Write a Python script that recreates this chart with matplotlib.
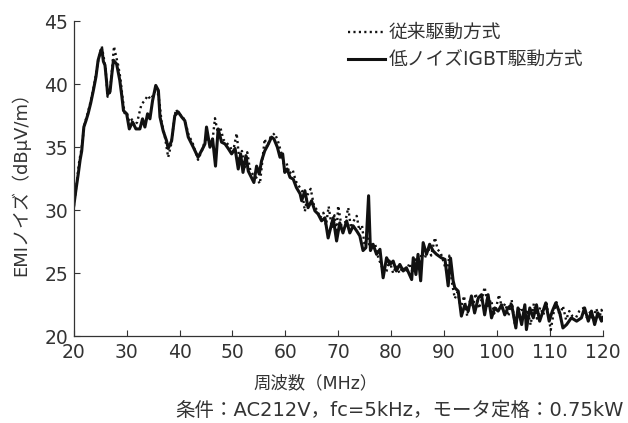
import matplotlib
matplotlib.use("Agg")
import matplotlib.pyplot as plt

plt.rcParams['font.family'] = ['DejaVu Sans', 'Noto Sans CJK JP']

# 低ノイズIGBT駆動方式 (solid)
freq_new = [20.0, 20.4, 20.85, 21.2, 21.5, 21.9, 22.3, 22.7, 23.2, 23.7, 24.2, 24.6, 25.0, 25.3, 25.6,
            25.9, 26.2, 26.4, 26.85, 27.2, 27.5, 28.1, 28.7, 29.1, 29.4, 30.0, 30.5, 31.1, 31.75, 32.5,
            33.0, 33.45, 33.95, 34.4, 34.9, 35.5, 36.0, 36.3, 36.9, 37.55, 37.85, 38.5, 39.1, 39.75, 40.4,
            41.0, 41.65, 42.6, 43.5, 44.5, 44.8, 45.1, 45.75, 46.25, 46.8, 47.3, 47.95, 48.6, 49.2, 49.85,
            50.5, 51.1, 51.55, 52.0, 52.55, 53.0, 53.6, 54.06, 54.57, 55.07, 55.5, 56.1, 56.8, 57.4, 57.85,
            58.5, 59.0, 59.5, 59.9, 60.35, 60.9, 61.5, 62.1, 62.8, 63.1, 63.7, 64.3, 64.97, 65.6, 66.2,
            66.86, 67.5, 68.1, 68.75, 69.05, 69.7, 70.3, 70.9, 71.6, 72.2, 72.84, 73.5, 74.1, 74.7, 75.24,
            75.75, 76.1, 76.6, 77.26, 77.9, 78.5, 79.15, 79.8, 80.4, 81.0, 81.66, 82.3, 82.9, 83.9, 84.2,
            84.7, 85.1, 85.6, 86.07, 86.7, 87.3, 87.96, 88.6, 89.5, 90.2, 90.8, 91.25, 91.74, 92.06, 92.7,
            93.3, 93.95, 94.6, 95.2, 95.8, 96.5, 97.1, 97.7, 98.35, 99.0, 99.6, 100.25, 100.9, 101.5, 102.1,
            102.8, 103.6, 104.0, 104.7, 105.3, 105.6, 106.24, 106.9, 107.5, 108.1, 108.75, 109.26, 109.9, 110.5, 111.15,
            111.9, 112.5, 113.2, 114.1, 115.1, 116.0, 116.6, 117.3, 117.9, 118.5, 119.1, 119.8, 120.0]
emi_new = [30.35, 31.6, 32.9, 34.0, 34.7, 36.6, 37.1, 37.65, 38.5, 39.5, 40.6, 41.9, 42.5, 42.8, 41.8,
           41.5, 40.2, 39.2, 39.4, 40.8, 41.9, 41.6, 40.3, 39.0, 37.9, 37.65, 36.45, 37.0, 36.45, 36.45,
           37.25, 36.6, 37.65, 37.25, 38.7, 39.9, 39.5, 37.4, 36.3, 35.5, 34.9, 35.5, 37.5, 37.8, 37.4,
           37.1, 35.8, 35.0, 34.2, 35.0, 35.26, 36.6, 35.0, 35.66, 33.5, 36.45, 35.4, 35.26, 34.9, 34.47,
           34.9, 33.27, 34.47, 33.0, 34.33, 33.1, 32.6, 32.2, 33.5, 32.87, 33.9, 34.7, 35.26, 35.8, 35.66,
           35.0, 34.2, 34.47, 33.0, 33.27, 32.6, 32.47, 31.8, 31.3, 30.75, 31.55, 30.2, 30.75, 29.95, 29.7,
           29.16, 29.4, 27.8, 28.9, 29.4, 27.56, 29.0, 28.2, 29.15, 28.2, 28.76, 28.36, 27.96, 26.8, 27.03,
           31.15, 26.8, 27.3, 26.5, 26.9, 24.64, 26.23, 25.7, 25.97, 25.18, 25.7, 25.18, 25.44, 24.5, 26.23,
           24.9, 26.5, 24.4, 27.43, 26.5, 27.3, 26.77, 26.5, 26.23, 26.1, 24.0, 26.2, 24.4, 23.85, 23.58,
           21.6, 22.5, 22.0, 23.2, 21.85, 23.05, 23.3, 21.7, 23.3, 21.46, 22.25, 22.0, 22.5, 21.7, 22.25,
           22.5, 20.66, 22.25, 20.93, 22.5, 20.53, 22.25, 21.46, 22.5, 21.2, 22.0, 22.65, 21.2, 22.0, 22.65,
           21.86, 20.66, 20.93, 21.46, 21.2, 21.46, 22.25, 21.2, 22.0, 20.93, 21.86, 21.2, 21.5]

# 従来駆動方式 (dotted)
freq_conv = [20.0, 20.5, 21.0, 21.5, 22.0, 22.5, 23.0, 23.5, 24.0, 24.5, 25.0, 25.3, 25.7, 26.0, 26.4,
             26.8, 27.2, 27.6, 28.0, 28.4, 28.8, 29.2, 29.6, 30.0, 30.5, 31.0, 31.5, 32.0, 32.5, 32.8,
             33.4, 34.0, 34.5, 35.0, 35.7, 36.2, 36.6, 37.2, 37.85, 38.4, 39.0, 39.3, 39.9, 40.5, 41.1,
             41.7, 42.5, 43.5, 44.3, 45.0, 45.6, 46.2, 46.7, 47.2, 47.7, 48.3, 49.0, 49.6, 50.1, 50.8,
             51.3, 51.8, 52.3, 52.8, 53.3, 53.9, 54.5, 55.2, 55.6, 56.1, 56.6, 57.2, 58.0, 58.6, 59.2,
             59.7, 60.2, 60.8, 61.4, 62.0, 62.6, 63.2, 63.7, 64.2, 64.8, 65.4, 66.0, 66.6, 67.2, 67.7,
             68.2, 68.8, 69.3, 69.7, 70.0, 70.6, 71.3, 71.9, 72.4, 73.0, 73.5, 74.0, 74.5, 75.0, 75.5,
             76.0, 76.5, 77.0, 77.6, 78.2, 78.7, 79.15, 79.7, 80.4, 81.0, 81.6, 82.2, 82.8, 83.5, 84.1,
             84.6, 85.2, 85.8, 86.4, 87.0, 87.6, 88.3, 88.8, 89.4, 90.0, 90.6, 91.0, 91.5, 92.06, 92.6,
             93.2, 93.8, 94.4, 94.9, 95.5, 96.0, 96.6, 97.2, 97.7, 98.3, 98.9, 99.5, 100.0, 100.4, 101.0,
             101.6, 102.2, 102.8, 103.4, 104.0, 104.6, 105.2, 105.8, 106.4, 107.0, 107.6, 108.2, 108.8, 109.4, 110.0,
             110.2, 110.8, 111.3, 111.9, 112.5, 113.1, 113.7, 114.3, 115.0, 115.6, 116.4, 117.0, 117.6, 118.2, 118.8,
             119.4, 119.8, 120.0]
emi_conv = [30.3, 32.0, 33.8, 35.0, 36.8, 37.5, 38.3, 39.2, 40.3, 41.6, 42.6, 43.0, 42.0, 41.3, 39.0,
            39.3, 41.0, 43.0, 42.2, 41.5, 40.5, 39.0, 37.7, 37.8, 37.0, 37.2, 36.7, 37.0, 37.9, 38.4,
            38.7, 39.1, 38.8, 39.1, 39.7, 38.6, 37.0, 35.9, 34.2, 35.2, 37.2, 38.0, 37.6, 37.5, 37.0,
            36.0, 35.3, 34.0, 34.8, 35.8, 35.3, 35.4, 37.3, 36.2, 36.6, 35.6, 35.3, 35.0, 34.6, 36.1,
            34.0, 34.7, 33.4, 34.6, 33.3, 32.8, 32.6, 32.1, 33.7, 35.66, 35.0, 35.8, 36.1, 35.5, 34.6,
            33.7, 33.8, 32.9, 33.2, 32.3, 31.9, 31.5, 29.9, 31.2, 31.7, 30.4, 30.0, 29.4, 29.8, 28.8,
            30.3, 28.6, 29.6, 28.2, 30.35, 28.8, 29.0, 30.2, 28.6, 29.2, 29.55, 28.4, 28.8, 27.2, 28.0,
            27.0, 26.8, 27.3, 26.2, 25.6, 25.0, 25.18, 26.0, 25.0, 25.6, 25.0, 25.5, 25.1, 25.8, 25.0,
            26.1, 25.4, 26.6, 26.2, 27.0, 26.4, 27.83, 26.9, 26.6, 25.8, 25.0, 26.4, 24.3, 23.0, 23.5,
            22.2, 23.2, 21.6, 22.8, 22.4, 23.4, 22.2, 23.0, 23.9, 22.4, 22.9, 21.8, 22.5, 23.3, 22.2,
            22.6, 21.6, 22.9, 21.0, 22.0, 22.3, 21.4, 22.1, 20.9, 22.6, 21.4, 22.3, 21.7, 22.6, 21.0,
            20.5, 22.0, 22.7, 21.6, 22.4, 21.3, 22.0, 21.6, 21.5, 22.0, 22.25, 21.5, 21.9, 21.3, 22.2,
            21.5, 22.1, 21.8]

x_ticks = [20, 30, 40, 50, 60, 70, 80, 90, 100, 110, 120]
y_ticks = [20, 25, 30, 35, 40, 45]

fig = plt.figure(figsize=(6.28, 4.23), dpi=100)
ax = fig.add_axes([0.1175, 0.205, 0.842, 0.745])

ax.plot(freq_conv, emi_conv, color='#111111', lw=1.7, linestyle=(0, (0.9, 1.4)),
        label='従来駆動方式')
ax.plot(freq_new, emi_new, color='#111111', lw=2.2, label='低ノイズIGBT駆動方式')

ax.set_xlim(20, 120)
ax.set_ylim(20, 45)
ax.set_xticks(x_ticks)
ax.set_yticks(y_ticks)
ax.tick_params(direction='in', length=4, width=0.8, labelsize=13.5, colors='#333333')
ax.tick_params(axis='x', pad=5)
ax.tick_params(axis='y', pad=4)
for s in ['top', 'right']:
    ax.spines[s].set_visible(False)
for s in ['left', 'bottom']:
    ax.spines[s].set_linewidth(0.9)
    ax.spines[s].set_color('#333333')

fig.text(0.032, 0.575, 'EMIノイズ（dBµV/m）', rotation=90, ha='center', va='center',
         fontsize=13, color='#333333')
fig.text(0.502, 0.094, '周波数（MHz）', ha='center', va='center', fontsize=12.5, color='#333333')
fig.text(0.993, 0.03, '条件：AC212V，fc=5kHz，モータ定格：0.75kW', ha='right', va='center',
         fontsize=14, color='#333333')

leg = ax.legend(loc='upper left', bbox_to_anchor=(0.554, 0.945), bbox_transform=fig.transFigure,
                frameon=False, fontsize=13.5, handlelength=2.0, handletextpad=0.15,
                labelspacing=0.42, borderpad=0, borderaxespad=0)
for t in leg.get_texts():
    t.set_color('#333333')

fig.savefig('out.png', dpi=100)
